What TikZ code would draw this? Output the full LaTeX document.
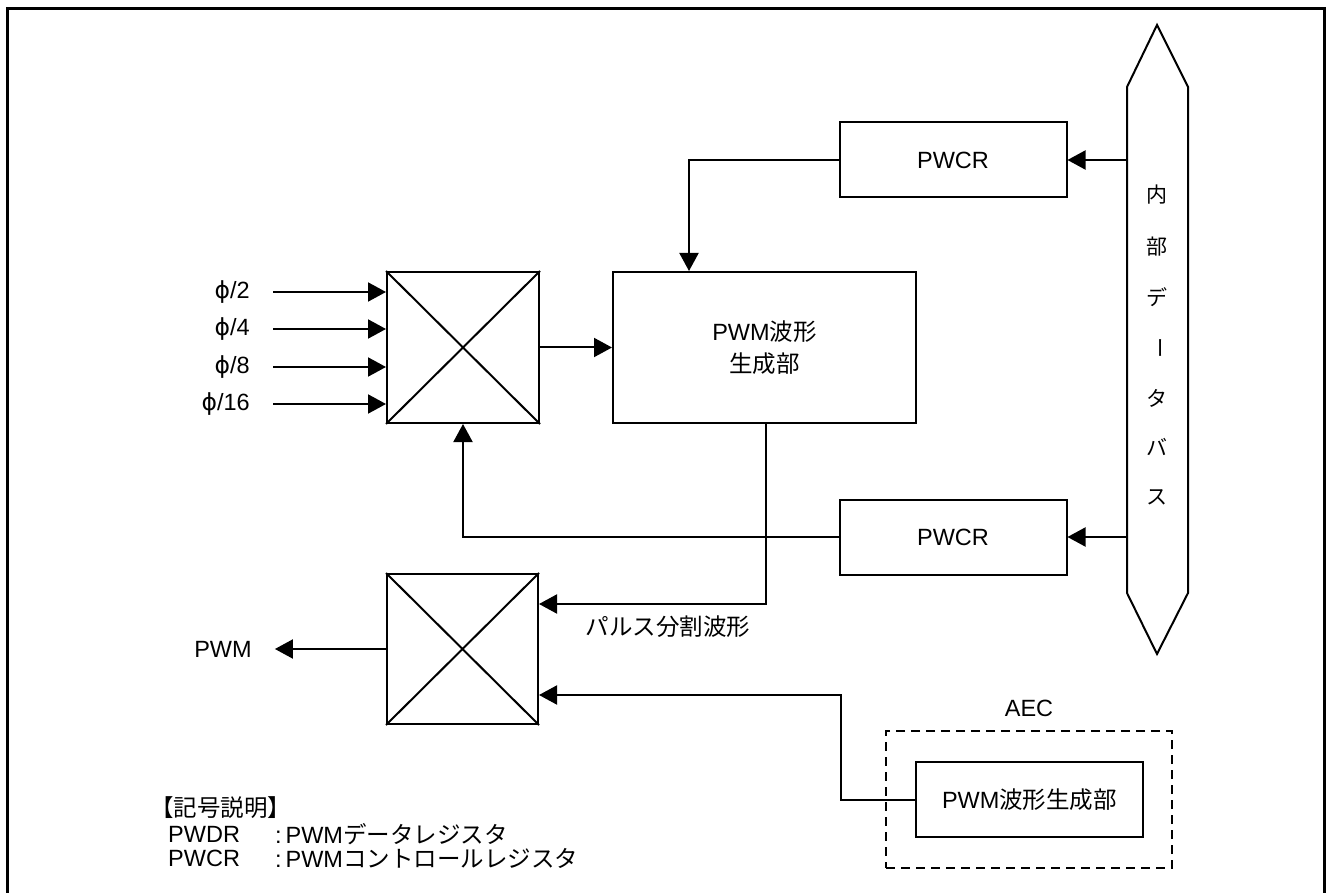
\documentclass[tikz,border=0pt]{standalone}
\usepackage{fontspec}
\setmainfont{Liberation Sans}
\newfontfamily\jp{Noto Sans CJK JP}
\newfontfamily\dv{DejaVu Sans}
\usetikzlibrary{arrows.meta}
\begin{document}
\begin{tikzpicture}[x=1pt,y=-1pt,
  every node/.style={font=\fontsize{23.5}{28}\selectfont, inner sep=0pt},
  blk/.style={draw, line width=2pt, minimum width=#1, inner sep=0pt},
  muxbox/.style={draw, line width=2pt, minimum width=151pt, minimum height=150pt},
  wire/.style={line width=2pt},
  arr/.style={line width=2pt, -{Triangle[length=18pt,width=19pt]}},
  frame/.style={line width=3pt}]
\useasboundingbox (0,0) rectangle (1326,893);
% frame
\draw[frame] (7,893) -- (7,9) -- (1324,9) -- (1324,893);

% bus
\draw[wire] (1157,25) -- (1188,87) -- (1188,593) -- (1157,654) -- (1127,593) -- (1127,87) -- cycle;
\coordinate (busL) at (1127,0);
\foreach \c/\yy in {内/195,部/247,デ/297,タ/398,バ/447,ス/497}
  \node[font=\fontsize{21}{25}\selectfont\jp] at (1157,\yy) {\c};
\node[font=\fontsize{21}{25}\selectfont\jp, rotate=-90] (bar) at (1157,348) {ー};

% blocks
\node[blk=227pt, minimum height=75pt] (c1) at (953,160) {PWCR};
\node[blk=227pt, minimum height=75pt] (c2) at (953,537) {PWCR};
\node[blk=303pt, minimum height=151pt, align=center, font=\fontsize{23.5}{32}\selectfont] (pwm) at (764.5,347.5) {PWM{\jp 波形}\\{\jp 生成部}};
\node[muxbox, minimum width=152pt, minimum height=151pt] (m1) at (463,347.5) {};
\node[muxbox] (m2) at (462.5,649) {};
\draw[wire] (m1.north west) -- (m1.south east) (m1.south west) -- (m1.north east);
\draw[wire] (m2.north west) -- (m2.south east) (m2.south west) -- (m2.north east);

% AEC
\node[draw, line width=2pt, dash pattern=on 9pt off 6pt, minimum width=286pt, minimum height=137pt] (aec) at (1029,799.5) {};
\node (aecl) at (1029,708) {AEC};
\node[blk=227pt, minimum height=75pt] (gen) at (1029.5,799.5) {PWM{\jp 波形生成部}};

% inputs
\foreach \n/\t/\yy in {p2/2/292,p4/4/329,p8/8/367,p16/16/404}{
  \node[anchor=east] (\n) at (250,\yy) {{\dv ϕ}/\t};
  \draw[arr] ([xshift=23pt]\n.east) -- (\n.east -| m1.west);
}

% connectors
\draw[arr] (m1.east) -- (pwm.west);
\draw[arr] (c1.east -| busL) -- (c1.east);
\draw[arr] (c2.east -| busL) -- (c2.east);
\draw[arr] (c1.west) -| ([xshift=-75.5pt]pwm.north);
\draw[arr] (c2.west) -| (m1.south);
\draw[arr] ([xshift=1.5pt]pwm.south) |- ([yshift=45pt]m2.east);
\node[font=\fontsize{23.5}{28}\selectfont\jp] (pl) at (668,627) {パルス分割波形};
\coordinate (bend) at (841,799.5);
\draw[arr] (gen.west) -- (bend) |- ([yshift=-46pt]m2.east);
\node (pwmo) at (223,649) {PWM};
\draw[arr] (m2.west) -- ([xshift=23pt]pwmo.east);

% legend
\node[anchor=west, font=\fontsize{23.5}{28}\selectfont\jp] (lg) at (150,808) {【記号説明】};
\node[anchor=west] (l1) at (168,834) {PWDR};
\node[anchor=west] (l1b) at (275,834) {:\,PWM{\jp データレジスタ}};
\node[anchor=west] (l2) at (168,858) {PWCR};
\node[anchor=west] (l2b) at (275,858) {:\,PWM{\jp コントロールレジスタ}};
\end{tikzpicture}
\end{document}
